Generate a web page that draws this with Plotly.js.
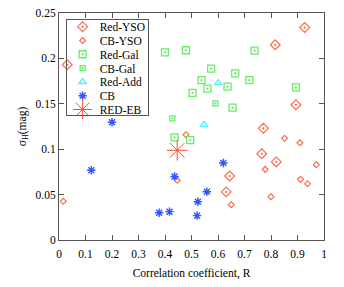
<!DOCTYPE html>
<html><head><meta charset="utf-8">
<script src="https://cdn.plot.ly/plotly-3.0.1.min.js"></script>
<style>body{margin:0;padding:0;background:#fff}#chart{width:344px;height:287px}</style>
</head><body><div id="chart"></div>
<script>
const redYsoX = [0.031, 0.927, 0.816, 0.894, 0.771, 0.765, 0.820, 0.644, 0.631];
const redYsoY = [0.193, 0.234, 0.215, 0.149, 0.123, 0.095, 0.086, 0.0705, 0.053];
const cbYsoX = [0.016, 0.479, 0.446, 0.650, 0.851, 0.909, 0.778, 0.971, 0.911, 0.938, 0.800];
const cbYsoY = [0.0426, 0.116, 0.0657, 0.0389, 0.112, 0.107, 0.0778, 0.083, 0.0668, 0.062, 0.0477];
const redGalX = [0.400, 0.479, 0.738, 0.574, 0.665, 0.538, 0.718, 0.636, 0.560, 0.504, 0.894, 0.655, 0.436, 0.495];
const redGalY = [0.2067, 0.209, 0.2085, 0.1887, 0.1836, 0.176, 0.176, 0.1689, 0.1667, 0.162, 0.168, 0.1457, 0.113, 0.110];
const cbGalX = [0.590, 0.428];
const cbGalY = [0.1505, 0.134];
const redAddX = [0.601, 0.547];
const redAddY = [0.173, 0.127];
const cbX = [0.200, 0.122, 0.378, 0.417, 0.436, 0.558, 0.524, 0.521, 0.620];
const cbY = [0.1296, 0.0768, 0.030, 0.0312, 0.070, 0.0532, 0.0422, 0.0268, 0.0848];
const redEbX = [0.446];
const redEbY = [0.0988];
const traceNames = ['Red-YSO', 'CB-YSO', 'Red-Gal', 'CB-Gal', 'Red-Add', 'CB', 'RED-EB'];

const salmon = '#ff6a4d', green = '#66ee66', cyan = '#55eeff', blue = '#3355ff', red = '#ff4a2a';
function tr(name, x, y, symbol, size, color, lw) {
  return {type:'scatter', mode:'markers', name:name, x:x, y:y,
    marker:{symbol:symbol, size:size, color:color, line:{color:color, width:lw}}};
}
const data = [
  tr(traceNames[0], redYsoX, redYsoY, 'diamond-open-dot', 7.5, salmon, 1.2),
  tr(traceNames[1], cbYsoX, cbYsoY, 'diamond-open', 4.5, salmon, 1.2),
  tr(traceNames[2], redGalX, redGalY, 'square-open-dot', 7, green, 1.3),
  tr(traceNames[3], cbGalX, cbGalY, 'square-open-dot', 5, green, 1.3),
  tr(traceNames[4], redAddX, redAddY, 'triangle-up-open', 6.5, cyan, 1.3),
  tr(traceNames[5], cbX, cbY, 'asterisk-open', 7, blue, 1.4),
  tr(traceNames[6], redEbX, redEbY, 'asterisk-open', 17, red, 1)
];
const fnt = {family:'Liberation Serif, Times New Roman, serif', size:11.5, color:'#000'};
const axis = {showgrid:false, zeroline:false, showline:true, mirror:'ticks', linecolor:'#555', linewidth:1,
  ticks:'inside', ticklen:5, tickcolor:'#555', tickfont:fnt};
const layout = {
  width:344, height:287, margin:{l:59, r:20, t:13, b:47},
  paper_bgcolor:'#fff', plot_bgcolor:'#fff', font:fnt,
  xaxis:Object.assign({}, axis, {range:[0,1], dtick:0.1, tickformat:'~g', ticklabelstandoff:3,
    title:{text:'Correlation coefficient, R', font:fnt, standoff:10}}),
  yaxis:Object.assign({}, axis, {range:[0,0.25], dtick:0.05, tickformat:'~g',
    title:{text:'σ<sub>H</sub>(mag)', font:fnt, standoff:6}}),
  showlegend:true,
  legend:{x:0.025, y:0.975, xanchor:'left', yanchor:'top', bgcolor:'rgba(255,255,255,0)', bordercolor:'#555', borderwidth:1,
    font:fnt, tracegroupgap:0, itemsizing:'trace'}
};
Plotly.newPlot('chart', data, layout, {displayModeBar:false, staticPlot:true}).then(function(gd){
  const leg = gd.querySelector('g.legend');
  if (!leg) return;
  const items = leg.querySelectorAll('g.traces');
  const step = 13.8;
  items.forEach(function(g, i){
    g.setAttribute('transform', 'translate(-3,' + (8 + i*step) + ')');
    const t = g.querySelector('text.legendtext');
    if (t) {
      t.setAttribute('x', 37);
      t.querySelectorAll('tspan').forEach(function(s){ if (s.hasAttribute('x')) s.setAttribute('x', 37); });
    }
  });
  const bg = leg.querySelector('rect.bg');
  if (bg) { bg.setAttribute('height', 96); bg.setAttribute('width', 82); }
});
</script></body></html>
